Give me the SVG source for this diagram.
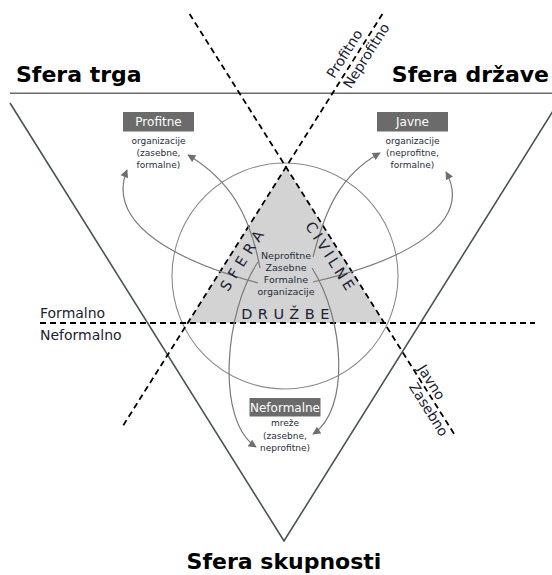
<svg xmlns="http://www.w3.org/2000/svg" width="552" height="575" viewBox="0 0 552 575">
<style>
.title{font-family:"DejaVu Sans",Verdana,sans-serif;font-weight:bold;font-size:22px;fill:#000}
.axis{font-family:"DejaVu Sans",Verdana,sans-serif;font-size:14px;fill:#1a2233}
.big{font-family:"DejaVu Sans",Verdana,sans-serif;font-size:14.5px;fill:#1a2233;letter-spacing:5.5px}
.box{fill:#6b6b6b}
.boxt{font-family:"DejaVu Sans",Verdana,sans-serif;font-size:12px;fill:#fff;text-anchor:middle}
.sub{font-family:"DejaVu Sans",Verdana,sans-serif;font-size:9px;fill:#1f2d3d;text-anchor:middle}
.ctr{font-family:"DejaVu Sans",Verdana,sans-serif;font-size:9.5px;fill:#1f2d3d;text-anchor:middle}
.dash{stroke:#000;stroke-width:1.8;stroke-dasharray:6 4;fill:none}
.solid{stroke:#4a544f;stroke-width:1.6;fill:none}
.curve{stroke:#7a7a7a;stroke-width:1.2;fill:none;marker-end:url(#arr)}
</style>
<defs>
<marker id="arr" viewBox="0 0 10 10" refX="9" refY="5" markerWidth="9" markerHeight="8" markerUnits="userSpaceOnUse" orient="auto">
<path d="M0,0 L10,5 L0,10 z" fill="#6e6e6e"/>
</marker>
</defs>

<g id="civil-triangle">
<polygon points="286,167 187.7,323 384.3,323" fill="#d3d3d3"/>
</g>
<g id="circle">
<circle cx="285" cy="276" r="113" fill="none" stroke="#8a8a8a" stroke-width="1.1"/>
</g>
<g id="spheres">
<line x1="10" y1="93.3" x2="552" y2="93.3" stroke="#6a6a6a" stroke-width="1.6"/>
<polyline class="solid" points="10,103 284,541 558,103"/>
</g>
<g id="axes">
<line class="dash" x1="189.6" y1="14" x2="454.8" y2="435"/>
<line class="dash" x1="382.4" y1="14" x2="121.6" y2="428"/>
<line class="dash" x1="40" y1="323" x2="535" y2="323"/>
</g>

<g id="connectors">
<path class="curve" d="M258,283 C180,262 105,225 127,170"/>
<path class="curve" d="M260,268 C250,215 230,180 188,155"/>
<path class="curve" d="M313,257 C325,210 340,175 380,153"/>
<path class="curve" d="M313,282 C400,262 475,225 446,172"/>
<path class="curve" d="M258,262 C225,310 215,420 256,447"/>
<path class="curve" d="M312,268 C345,320 350,410 313,434"/>
</g>

<g id="sfera-trga"><text class="title" x="16" y="82">Sfera trga</text></g>
<g id="sfera-drzave"><text class="title" x="549" y="82" text-anchor="end">Sfera države</text></g>
<g id="sfera-skupnosti"><text class="title" x="284" y="569" text-anchor="middle">Sfera skupnosti</text></g>

<g id="label-profitno">
<text class="axis" font-size="15" transform="translate(334.2,79.2) rotate(-57.8)">Profitno</text>
<text class="axis" font-size="15" transform="translate(350.7,89.6) rotate(-57.8)">Neprofitno</text>
</g>
<g id="label-javno">
<text class="axis" font-size="15" transform="translate(417,368.5) rotate(57.8)">Javno</text>
<text class="axis" font-size="15" transform="translate(408.5,386.5) rotate(57.8)">Zasebno</text>
</g>
<g id="label-formalno">
<text class="axis" x="40" y="318">Formalno</text>
<text class="axis" x="40" y="340">Neformalno</text>
</g>

<g id="sfera-civilne-druzbe">
<text class="big" text-anchor="middle" transform="translate(247.5,261) rotate(-57.8)">SFERA</text>
<text class="big" text-anchor="middle" style="letter-spacing:3.5px" transform="translate(326.5,260) rotate(57.8)">CIVILNE</text>
<text class="big" text-anchor="middle" x="288" y="319">DRUŽBE</text>
</g>

<g id="center">
<text class="ctr" x="286" y="259">Neprofitne</text>
<text class="ctr" x="286" y="271">Zasebne</text>
<text class="ctr" x="286" y="283">Formalne</text>
<text class="ctr" x="286" y="295">organizacije</text>
</g>

<g id="profitne">
<rect class="box" x="123" y="112" width="71" height="19.5"/>
<text class="boxt" x="158.5" y="126">Profitne</text>
<text class="sub" x="158.5" y="143.5">organizacije</text>
<text class="sub" x="158.5" y="155.5">(zasebne,</text>
<text class="sub" x="158.5" y="167.5">formalne)</text>
</g>
<g id="javne">
<rect class="box" x="377" y="112" width="71" height="19.5"/>
<text class="boxt" x="412.5" y="126">Javne</text>
<text class="sub" x="412.5" y="143.5">organizacije</text>
<text class="sub" x="412.5" y="155.5">(neprofitne,</text>
<text class="sub" x="412.5" y="167.5">formalne)</text>
</g>
<g id="neformalne">
<rect class="box" x="249.5" y="398" width="71" height="18.5"/>
<text class="boxt" x="285" y="412">Neformalne</text>
<text class="sub" x="285" y="426">mreže</text>
<text class="sub" x="285" y="438.5">(zasebne,</text>
<text class="sub" x="285" y="451">neprofitne)</text>
</g>
</svg>
